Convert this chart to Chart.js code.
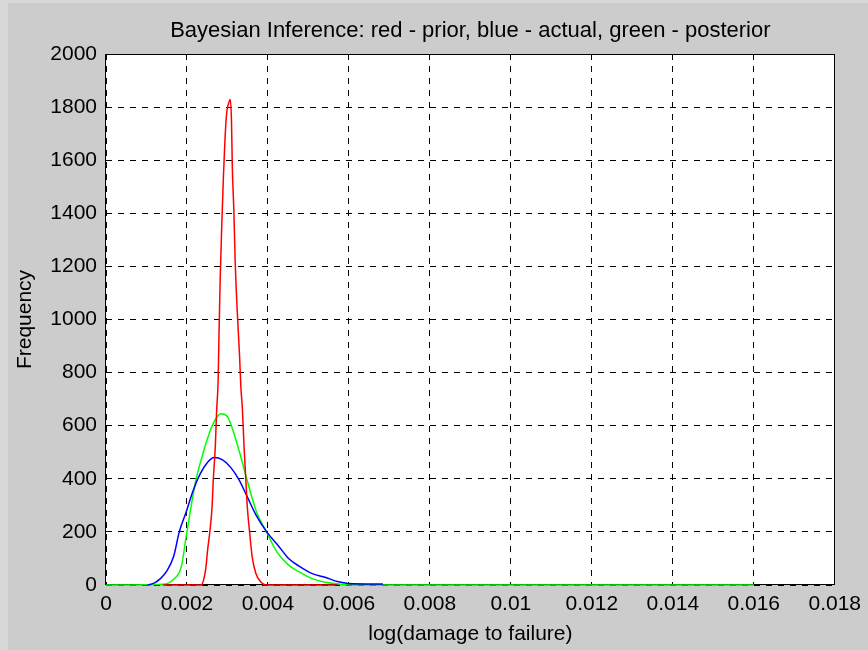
<!DOCTYPE html>
<html>
<head>
<meta charset="utf-8">
<title>Bayesian Inference</title>
<script src="https://cdn.jsdelivr.net/npm/chart.js@4.4.1/dist/chart.umd.min.js"></script>
<style>
    html, body { margin: 0; padding: 0; background: #cccccc; }
    #wrap { width: 868px; height: 650px; }
</style>
</head>
<body>
<div id="wrap"><canvas id="bayesChart" width="868" height="650"></canvas></div>
<script>
// tick labels
const xTickLabels = ["0", "0.002", "0.004", "0.006", "0.008", "0.01", "0.012", "0.014", "0.016", "0.018"];
const yTickLabels = ["0", "200", "400", "600", "800", "1000", "1200", "1400", "1600", "1800", "2000"];

// prior (red)
const priorX = [0.0014, 0.00235, 0.00243, 0.00247, 0.00251, 0.00257, 0.00262, 0.00265, 0.0027, 0.00273,
    0.00277, 0.00279, 0.00282, 0.00286, 0.0029, 0.00294, 0.00298, 0.00303, 0.00307, 0.0031,
    0.00312, 0.00316, 0.00319, 0.00324, 0.0033, 0.00333, 0.00337, 0.00341, 0.00345, 0.00349,
    0.00355, 0.00361, 0.0037, 0.00382, 0.00394, 0.0057];
const priorY = [0, 0, 31, 69, 132, 207, 295, 395, 521, 647,
    772, 935, 1149, 1356, 1538, 1682, 1777, 1815, 1829, 1745,
    1575, 1400, 1224, 1036, 860, 750, 659, 521, 408, 295,
    195, 107, 44, 12, 0, 0];

// actual (blue)
const actualX = [0.00103, 0.0012, 0.00135, 0.0015, 0.00167, 0.00181, 0.00198, 0.00214, 0.00231, 0.00251,
    0.00267, 0.00288, 0.00308, 0.00329, 0.00345, 0.0037, 0.00398, 0.00427, 0.00451, 0.00476,
    0.00508, 0.00541, 0.00574, 0.00598, 0.00684];
const actualY = [0, 8, 25, 52, 107, 200, 275, 350, 414, 462,
    480, 471, 443, 395, 345, 265, 198, 145, 100, 72,
    44, 29, 12, 6, 4];

// posterior (green)
const posteriorX = [0, 0.0014, 0.00165, 0.00186, 0.00198, 0.0021, 0.00222, 0.00235, 0.00251, 0.00267,
    0.00284, 0.003, 0.00316, 0.00333, 0.00353, 0.00373, 0.00398, 0.00422, 0.00451, 0.00476,
    0.00508, 0.00541, 0.00574, 0.006, 0.016];
const posteriorY = [0, 3, 19, 69, 182, 295, 395, 471, 553, 615,
    645, 634, 571, 483, 370, 270, 195, 125, 75, 50,
    25, 10, 4, 0, 0];

function toPoints(xs, ys) {
    return xs.map((x, i) => ({ x: x, y: ys[i] }));
}

const FONT = { family: "'Liberation Sans', Arial, sans-serif", size: 21 };

// white axes box and black frame like matlab
const axesBox = {
    id: "axesBox",
    beforeDraw(chart) {
        const { ctx, chartArea: a } = chart;
        ctx.save();
        ctx.fillStyle = "#cccccc";
        ctx.fillRect(0, 0, chart.width, chart.height);
        // lighter window edge
        ctx.fillStyle = "#d8d8d8";
        ctx.fillRect(0, 0, chart.width, 3);
        ctx.fillRect(0, 0, 8, chart.height);
        ctx.fillStyle = "#ffffff";
        ctx.fillRect(a.left, a.top, a.right - a.left, a.bottom - a.top);
        ctx.restore();
    },
    beforeDatasetsDraw(chart) {
        const { ctx, chartArea: a } = chart;
        ctx.save();
        ctx.strokeStyle = "#000000";
        ctx.lineWidth = 1;
        ctx.strokeRect(Math.round(a.left) - 0.5, Math.round(a.top) + 0.5,
            Math.round(a.right - a.left), Math.round(a.bottom - a.top) - 1);
        ctx.restore();
    }
};

function lineSet(label, xs, ys, color) {
    return {
        label: label,
        data: toPoints(xs, ys),
        borderColor: color,
        backgroundColor: color,
        borderWidth: 1.5,
        pointRadius: 0,
        fill: false,
        showLine: true,
        clip: false,
        cubicInterpolationMode: "monotone"
    };
}

new Chart(document.getElementById("bayesChart"), {
    type: "scatter",
    data: {
        datasets: [
            lineSet("prior", priorX, priorY, "#ff0000"),
            lineSet("actual", actualX, actualY, "#0000ff"),
            lineSet("posterior", posteriorX, posteriorY, "#00ff00")
        ]
    },
    options: {
        responsive: false,
        animation: false,
        layout: { padding: { left: 0, top: 0, right: 28, bottom: 0 } },
        plugins: {
            legend: { display: false },
            tooltip: { enabled: false },
            title: {
                display: true,
                fullSize: false,
                text: "Bayesian Inference: red - prior, blue - actual, green - posterior",
                color: "#000000",
                font: { family: FONT.family, size: 22, weight: "normal" },
                padding: { top: 18, bottom: 9.6 }
            }
        },
        scales: {
            x: {
                type: "linear",
                min: 0,
                max: 0.018,
                afterFit: s => { s.height = 65; },
                ticks: {
                    stepSize: 0.002,
                    autoSkip: false,
                    maxRotation: 0,
                    padding: 7,
                    color: "#000000",
                    font: FONT,
                    callback: (v, i) => xTickLabels[i]
                },
                grid: { color: "#000000", lineWidth: 1, drawTicks: false },
                border: { display: false, dash: [6, 6] },
                title: {
                    display: true,
                    text: "log(damage to failure)",
                    color: "#000000",
                    font: FONT,
                    padding: { top: 0, bottom: 3 }
                }
            },
            y: {
                type: "linear",
                min: 0,
                max: 2000,
                afterFit: s => { s.width = 106; },
                ticks: {
                    stepSize: 200,
                    autoSkip: false,
                    padding: 9,
                    color: "#000000",
                    font: FONT,
                    callback: (v, i) => yTickLabels[i]
                },
                grid: { color: "#000000", lineWidth: 1, drawTicks: false },
                border: { display: false, dash: [6, 6] },
                title: {
                    display: true,
                    text: "Frequency",
                    color: "#000000",
                    font: FONT,
                    padding: { top: 13, bottom: 0 }
                }
            }
        }
    },
    plugins: [axesBox]
});
</script>
</body>
</html>
